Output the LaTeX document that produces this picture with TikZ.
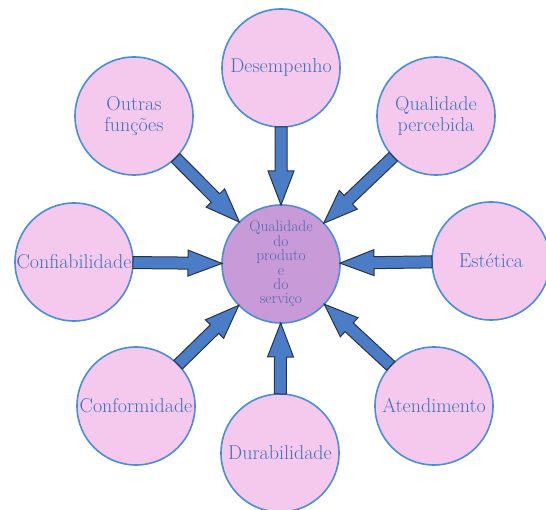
\documentclass[tikz,border=0pt]{standalone}
\usetikzlibrary{calc}

\definecolor{petalpink}{HTML}{F5C9EE}
\definecolor{hubpurple}{HTML}{C99AD8}
\definecolor{ringblue}{HTML}{4A8ED8}
\definecolor{labelblue}{HTML}{3F72B8}
\definecolor{hubtext}{HTML}{5268B0}
\definecolor{arrowblue}{HTML}{4A7DC6}
\definecolor{arrowedge}{HTML}{2B3244}

\tikzset{
  petal/.style={circle, draw=ringblue, line width=1.6pt, fill=petalpink,
    minimum size=118pt, inner sep=0pt, text=labelblue, align=center,
    font=\fontsize{20}{21.5}\selectfont},
  hub/.style={petal, fill=hubpurple, text=hubtext,
    font=\fontsize{15.5}{14.4}\selectfont},
  arrowbody/.style={fill=arrowblue, draw=arrowedge, line width=1pt, line join=miter}
}

% block arrow from the rim of #1 to the rim of #2
\newcommand\flowarrow[2]{%
  \coordinate (fa-s) at ($(#1)!59pt!(#2)$);
  \coordinate (fa-e) at ($(#2)!59pt!(#1)$);
  \coordinate (fa-h) at ($(fa-e)!34pt!(fa-s)$);
  \draw[arrowbody]
    ($(fa-s)!6pt!90:(fa-e)$) -- ($(fa-h)!6pt!90:(fa-e)$) --
    ($(fa-h)!13pt!90:(fa-e)$) -- (fa-e) --
    ($(fa-h)!13pt!-90:(fa-e)$) -- ($(fa-h)!6pt!-90:(fa-e)$) --
    ($(fa-s)!6pt!-90:(fa-e)$) -- cycle;}

\begin{document}
\begin{tikzpicture}[x=1pt, y=-1pt]
  \useasboundingbox (0,0) rectangle (546,510);

  \node[hub]   (q)    at (281,264) {Qualidade\\do\\produto\\e\\do\\serviço};
  \node[petal] (des)  at (281,68)  {Desempenho};
  \node[petal] (per)  at (436,116) {Qualidade\\percebida};
  \node[petal] (est)  at (491,261) {Estética};
  \node[petal] (ate)  at (434,406) {Atendimento};
  \node[petal] (dur)  at (280,453) {Durabilidade};
  \node[petal] (conf) at (136,406) {Conformidade};
  \node[petal] (cfb)  at (74,262)  {Confiabilidade};
  \node[petal] (out)  at (134,116) {Outras\\funções};

  \foreach \src in {des,per,est,ate,dur,conf,cfb,out}
    {\flowarrow{\src}{q}}
\end{tikzpicture}
\end{document}
